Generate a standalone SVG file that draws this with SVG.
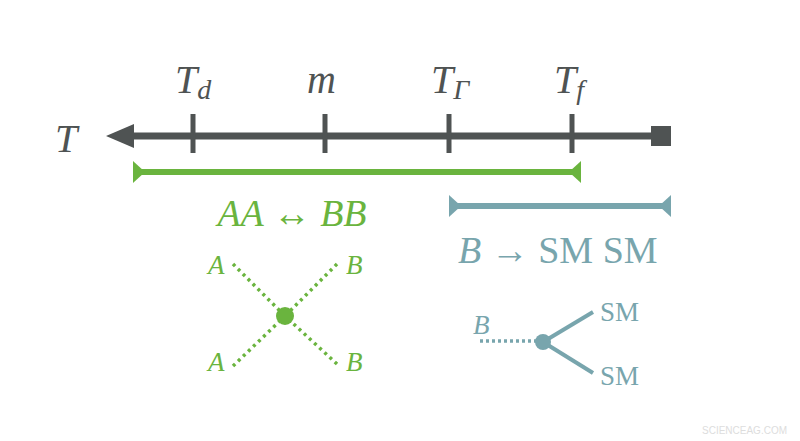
<svg xmlns="http://www.w3.org/2000/svg" width="800" height="441" viewBox="0 0 800 441">
<style>
.m{font-style:italic}
.g{fill:#6ab43e}.t{fill:#78a5ad}.k{fill:#4f5353}
</style>
<rect width="800" height="441" fill="#fff"/>
<g id="connectors">
<line x1="120" y1="136" x2="655" y2="136" stroke="#4f5353" stroke-width="7"/>
<polygon points="106,136 134,124 134,148" class="k"/>
<rect x="651" y="126" width="20" height="20" class="k"/>
<g stroke="#4f5353" stroke-width="5"><line x1="193" y1="114" x2="193" y2="153"/><line x1="325" y1="114" x2="325" y2="153"/><line x1="449" y1="114" x2="449" y2="153"/><line x1="572" y1="114" x2="572" y2="153"/></g>
<line x1="136" y1="172" x2="578" y2="172" stroke="#6ab43e" stroke-width="6"/>
<polygon points="133,161 133,183 145,172" class="g"/><polygon points="581,161 581,183 569,172" class="g"/>
<line x1="452" y1="206" x2="668" y2="206" stroke="#78a5ad" stroke-width="6"/>
<polygon points="449,195 449,217 461,206" class="t"/><polygon points="671,195 671,217 659,206" class="t"/>
<g stroke="#6ab43e" stroke-width="3.5" stroke-dasharray="3,4"><line x1="233" y1="264" x2="285" y2="316"/><line x1="337" y1="264" x2="285" y2="316"/><line x1="233" y1="366" x2="285" y2="316"/><line x1="337" y1="364" x2="285" y2="316"/></g>
<line x1="480" y1="341" x2="540" y2="341" stroke="#78a5ad" stroke-width="3.5" stroke-dasharray="3,3"/>
<g stroke="#78a5ad" stroke-width="4"><line x1="543" y1="342" x2="593" y2="312"/><line x1="543" y1="342" x2="593" y2="373"/></g>
</g>
<g id="axis-labels" font-family="Liberation Serif, DejaVu Serif, serif">
<text x="55" y="152" font-size="40" class="m k">T</text>
<text x="175" y="93" font-size="40" class="m k">T<tspan font-size="28" dy="6">d</tspan></text>
<text x="307" y="93" font-size="40" class="m k">m</text>
<text x="431" y="93" font-size="40" class="m k">T<tspan font-size="28" dy="6">Γ</tspan></text>
<text x="554" y="93" font-size="40" class="m k">T<tspan font-size="28" dy="6">f</tspan></text>
</g>
<g id="annihilation" font-family="Liberation Serif, DejaVu Serif, serif">
<text x="292" y="226" font-size="38" text-anchor="middle" class="m g">AA <tspan font-style="normal">↔</tspan> BB</text>
<circle cx="285" cy="316" r="9" class="g"/>
<text x="208" y="274" font-size="27" class="m g">A</text>
<text x="346" y="274" font-size="27" class="m g">B</text>
<text x="208" y="371" font-size="27" class="m g">A</text>
<text x="346" y="371" font-size="27" class="m g">B</text>
</g>
<g id="decay" font-family="Liberation Serif, DejaVu Serif, serif">
<text x="458" y="263" font-size="38" class="m t">B <tspan font-style="normal">→ SM SM</tspan></text>
<circle cx="543" cy="342" r="8" class="t"/>
<text x="473" y="334" font-size="27" class="m t">B</text>
<text x="600" y="321" font-size="27" class="t">SM</text>
<text x="600" y="385" font-size="27" class="t">SM</text>
</g>
<text x="787" y="434" font-size="10" text-anchor="end" fill="#ddd" font-family="Liberation Sans, sans-serif">SCIENCEAG.COM</text>
</svg>
